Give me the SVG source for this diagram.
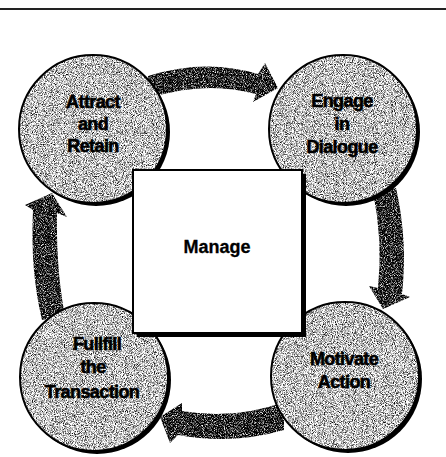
<svg xmlns="http://www.w3.org/2000/svg" width="446" height="457" viewBox="0 0 446 457">
<defs>
<filter id="grainLight" x="0" y="0" width="100%" height="100%" color-interpolation-filters="sRGB">
<feTurbulence type="fractalNoise" baseFrequency="1.1" numOctaves="2" seed="4"/>
<feColorMatrix type="matrix" values="2.4 0 0 0 -0.45  2.4 0 0 0 -0.45  2.4 0 0 0 -0.45  0 0 0 0 1"/>
<feComposite in2="SourceGraphic" operator="in"/>
</filter>
<filter id="grainDark" x="0" y="0" width="100%" height="100%" color-interpolation-filters="sRGB">
<feTurbulence type="fractalNoise" baseFrequency="1.1" numOctaves="2" seed="9"/>
<feColorMatrix type="matrix" values="2.8 0 0 0 -1.25  2.8 0 0 0 -1.25  2.8 0 0 0 -1.25  0 0 0 0 1"/>
<feComposite in2="SourceGraphic" operator="in"/>
</filter>
</defs>
<style>
.arrow{fill:#111;filter:url(#grainDark)}
.shadow{fill:#000}
.disc{fill:#bbb;filter:url(#grainLight)}
.rim{fill:none;stroke:#000;stroke-width:2}
.lbl{font-family:"Liberation Sans",Arial,sans-serif;font-weight:bold;font-size:18px;letter-spacing:-0.6px;text-anchor:middle;fill:#000;stroke:#000;stroke-width:0.6px}
.mgr{font-family:"Liberation Sans",Arial,sans-serif;font-weight:bold;font-size:18px;text-anchor:middle;fill:#000;stroke:#000;stroke-width:0.3px}
</style>
<rect width="446" height="457" fill="#fff"/>
<line x1="0" y1="9" x2="446" y2="9" stroke="#222" stroke-width="2"/>

<g id="connectors">
<path class="arrow" d="M148,76 Q205,58 258,74 L265,63 L278,88 L253,102 L256,94 Q205,80 150,98 Z"/>
<path class="arrow" d="M373,192 Q383,240 378,288 L369,286 L383,309 L410,297 L402,294 Q408,240 396,188 Z"/>
<path class="arrow" d="M284,402 Q235,420 182,411 L182,403 L160,417 L170,443 L178,435 Q232,445 284,430 Z"/>
<path class="arrow" d="M42,320 Q30,270 33,210 L25,205 L52,193 L67,217 L57,213 Q56,270 65,316 Z"/>
</g>

<g id="attract">
<circle class="shadow" cx="96" cy="132" r="74"/>
<circle class="disc" cx="93" cy="129" r="74"/>
<circle class="rim" cx="93" cy="129" r="74"/>
<text class="lbl" x="93" y="108">Attract</text>
<text class="lbl" x="93" y="130">and</text>
<text class="lbl" x="93" y="152">Retain</text>
</g>

<g id="engage">
<circle class="shadow" cx="346" cy="132" r="74"/>
<circle class="disc" cx="343" cy="129" r="74"/>
<circle class="rim" cx="343" cy="129" r="74"/>
<text class="lbl" x="342" y="107">Engage</text>
<text class="lbl" x="342" y="130">in</text>
<text class="lbl" x="342" y="153">Dialogue</text>
</g>

<g id="motivate">
<circle class="shadow" cx="348" cy="379" r="74"/>
<circle class="disc" cx="345" cy="376" r="74"/>
<circle class="rim" cx="345" cy="376" r="74"/>
<text class="lbl" x="344" y="365">Motivate</text>
<text class="lbl" x="344" y="388">Action</text>
</g>

<g id="fulfill">
<circle class="shadow" cx="97" cy="380" r="74"/>
<circle class="disc" cx="94" cy="377" r="74"/>
<circle class="rim" cx="94" cy="377" r="74"/>
<text class="lbl" x="97" y="350">Fullfill</text>
<text class="lbl" x="93" y="373">the</text>
<text class="lbl" x="92" y="398">Transaction</text>
</g>

<g id="manage">
<rect x="137" y="174" width="169" height="163" fill="#000"/>
<rect x="133" y="170" width="169" height="163" fill="#fff" stroke="#000" stroke-width="2"/>
<text class="mgr" x="217" y="253">Manage</text>
</g>
</svg>
